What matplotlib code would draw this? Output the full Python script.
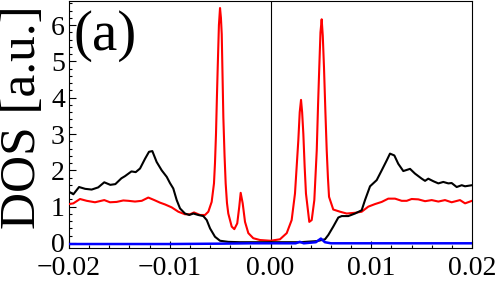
import matplotlib
matplotlib.use('Agg')
import matplotlib.pyplot as plt
from matplotlib.ticker import MultipleLocator, FixedLocator, FixedFormatter

# energy grid / values
black_x = [-0.0200, -0.01957, -0.0190, -0.0184, -0.01775, -0.0171, -0.0165, -0.0159, -0.0154, -0.0148,
           -0.01444, -0.0138, -0.01338, -0.01295, -0.01245, -0.01206, -0.01173, -0.0113, -0.0108, -0.0103,
           -0.00998, -0.00965, -0.00931, -0.00898, -0.00849, -0.00806, -0.00766, -0.00717, -0.00667, -0.00633,
           -0.0060, -0.00551, -0.00501, -0.00419, -0.00303, 0.0, 0.00293, 0.00459, 0.00541, 0.00574,
           0.00623, 0.00673, 0.00707, 0.00772, 0.00839, 0.00905, 0.00938, 0.00988, 0.01054, 0.01104,
           0.01153, 0.01186, 0.01229, 0.01268, 0.01318, 0.01385, 0.01434, 0.01501, 0.01534, 0.01566,
           0.01616, 0.01666, 0.01715, 0.01765, 0.01798, 0.01848, 0.01898, 0.01931, 0.0200]
black_y = [1.41, 1.34, 1.54, 1.49, 1.47, 1.53, 1.67, 1.60, 1.62, 1.78,
           1.84, 1.97, 1.95, 2.05, 2.32, 2.51, 2.53, 2.23, 2.00, 1.82,
           1.65, 1.50, 1.18, 0.95, 0.81, 0.77, 0.81, 0.77, 0.74, 0.63,
           0.40, 0.17, 0.06, 0.03, 0.02, 0.02, 0.02, 0.05, 0.10, 0.22,
           0.45, 0.70, 0.74, 0.74, 0.81, 0.90, 1.18, 1.56, 1.73, 2.00,
           2.27, 2.46, 2.41, 2.18, 1.98, 2.04, 1.91, 1.77, 1.71, 1.77,
           1.70, 1.64, 1.68, 1.64, 1.65, 1.54, 1.59, 1.56, 1.59]

red_x = [-0.0200, -0.01957, -0.01891, -0.01824, -0.01742, -0.01650, -0.01593, -0.01527, -0.01461, -0.01411,
         -0.01345, -0.01278, -0.01213, -0.01153, -0.01097, -0.01047, -0.00981, -0.00948, -0.00915, -0.00849,
         -0.00799, -0.00759, -0.00700, -0.00650, -0.00617, -0.00584, -0.00561, -0.00551, -0.00541, -0.00532,
         -0.00524, -0.00512, -0.00501, -0.00492, -0.00484, -0.00476, -0.00468, -0.00456, -0.00445, -0.00432,
         -0.00419, -0.00385, -0.00359, -0.00330, -0.00310, -0.00296, -0.00276, -0.00253, -0.00220, -0.00171,
         -0.00104, 0.0, 0.00094, 0.00161, 0.00210, 0.00243, 0.00276, 0.00290, 0.00303, 0.00314,
         0.00326, 0.00339, 0.00352, 0.00385, 0.00409, 0.00435, 0.00459, 0.00472, 0.00484, 0.00496,
         0.00508, 0.00519, 0.00531, 0.00545, 0.00558, 0.00570, 0.00581, 0.00623, 0.00690, 0.00756,
         0.00839, 0.00905, 0.00971, 0.01037, 0.01104, 0.01169, 0.01236, 0.01302, 0.01352, 0.01401,
         0.01467, 0.01534, 0.01600, 0.01666, 0.01732, 0.01798, 0.01881, 0.01931, 0.0200]
red_y = [1.07, 1.09, 1.21, 1.16, 1.12, 1.18, 1.12, 1.13, 1.17, 1.16,
         1.14, 1.16, 1.25, 1.18, 1.11, 1.06, 0.98, 0.92, 0.86, 0.79,
         0.79, 0.84, 0.77, 0.77, 0.86, 1.13, 1.64, 2.20, 3.00, 4.00,
         4.83, 6.00, 6.47, 6.20, 5.75, 4.60, 3.46, 2.40, 1.64, 1.10,
         0.81, 0.45, 0.38, 0.54, 1.00, 1.38, 1.09, 0.58, 0.27, 0.13,
         0.08, 0.06, 0.10, 0.27, 0.63, 1.36, 2.82, 3.60, 3.94, 3.60,
         3.00, 2.10, 1.36, 0.58, 0.63, 1.18, 2.55, 3.80, 4.83, 5.80,
         6.16, 5.70, 4.83, 3.60, 2.55, 1.80, 1.27, 0.92, 0.86, 0.81,
         0.83, 0.86, 1.00, 1.07, 1.13, 1.22, 1.22, 1.16, 1.16, 1.21,
         1.20, 1.15, 1.18, 1.14, 1.18, 1.12, 1.18, 1.09, 1.16]

blue_x = [-0.0200, -0.0100, -0.0050, -0.0020, 0.0, 0.0025, 0.0029, 0.0033, 0.0045, 0.0050,
          0.0054, 0.0060, 0.0100, 0.0200]
blue_y = [-0.03, -0.03, -0.02, -0.01, -0.01, -0.01, 0.03, -0.01, 0.02, 0.12,
          0.02, -0.01, -0.01, -0.01]

x_ticks = [-0.02, -0.01, 0.0, 0.01, 0.02]
x_tick_labels = ['\u22120.02', '\u22120.01', '0.00', '0.01', '0.02']
y_ticks = [0, 1, 2, 3, 4, 5, 6]

plt.rcParams['font.family'] = ['Liberation Serif', 'DejaVu Serif']

fig = plt.figure(figsize=(5, 2.83), dpi=100)
ax = fig.add_axes([0.138, 0.124, 0.806, 0.872])

ax.plot(red_x, red_y, color='#ff0000', lw=1.5, zorder=3)
ax.plot(black_x, black_y, color='black', lw=1.5, zorder=4)
ax.plot(blue_x, blue_y, color='#0000ff', lw=1.8, zorder=5)
ax.axvline(0, color='black', lw=0.8, zorder=2)

ax.set_xlim(-0.02, 0.02)
ax.set_ylim(-0.137, 6.66)

ax.xaxis.set_major_locator(FixedLocator(x_ticks))
ax.xaxis.set_major_formatter(FixedFormatter(x_tick_labels))
ax.xaxis.set_minor_locator(MultipleLocator(0.002))
ax.yaxis.set_major_locator(FixedLocator(y_ticks))
ax.yaxis.set_minor_locator(MultipleLocator(0.2))

ax.tick_params(which='both', direction='in', top=False, right=False, width=0.8, labelsize=20)
ax.tick_params(which='major', length=5)
ax.tick_params(which='minor', length=2.5)
ax.tick_params(axis='x', pad=6)
ax.tick_params(axis='y', pad=3)
for s in ax.spines.values():
    s.set_linewidth(0.8)

fig.text(0.045, 1 - 117 / 283, 'DOS [a.u.]', rotation=90, ha='center', va='center', fontsize=37)
fig.text(0.21, 1 - 36 / 283, '(a)', ha='center', va='center', fontsize=41)

fig.savefig('out.png', dpi=100)
